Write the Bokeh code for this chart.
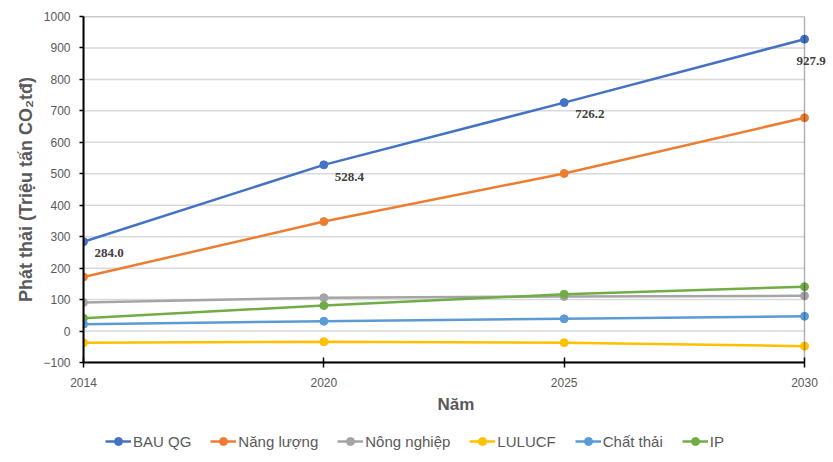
from bokeh.plotting import figure
from bokeh.layouts import column
from bokeh.models import (FixedTicker, Legend, LegendItem, Range1d, ColumnDataSource,
                          LabelSet, BoxAnnotation)
from bokeh.embed import file_html
from bokeh.resources import INLINE

years = ["2014", "2020", "2025", "2030"]
bau_qg = [284.0, 528.4, 726.2, 927.9]
nang_luong = [172, 348, 501, 678]
nong_nghiep = [91, 106, 110, 112]
lulucf = [-37, -34, -37, -48]
chat_thai = [22, 31, 39, 47]
ip = [41, 81, 117, 141]
y_ticks = list(range(-100, 1001, 100))

series_names = ["BAU QG", "Năng lượng", "Nông nghiệp", "LULUCF", "Chất thải", "IP"]
series_values = [bau_qg, nang_luong, nong_nghiep, lulucf, chat_thai, ip]
colors = ["#4472C4", "#ED7D31", "#A5A5A5", "#FFC000", "#5B9BD5", "#70AD47"]
draw_order = [2, 5, 4, 3, 1, 0]

xs = list(range(len(years)))
FONT = "Liberation Sans"
GRAY = "#595959"

W = 833
MAIN_H, LEG_H = 420, 42
FRAME_L, FRAME_R, PLOT_R = 83, 828, 804
x_end = (len(years) - 1) * (FRAME_R - FRAME_L) / (PLOT_R - FRAME_L)

p = figure(width=W, height=MAIN_H, output_backend="svg", toolbar_location=None,
           x_range=Range1d(0, x_end), y_range=Range1d(y_ticks[0], y_ticks[-1]),
           min_border_left=FRAME_L, min_border_right=W - FRAME_R, min_border_top=16,
           min_border_bottom=58)

p.outline_line_color = None
p.background_fill_color = "white"
p.border_fill_color = "white"
p.xgrid.grid_line_color = None
p.ygrid.grid_line_color = None

# horizontal gridlines limited to the category span
p.segment(x0=[0] * len(y_ticks), x1=[xs[-1]] * len(y_ticks), y0=y_ticks, y1=y_ticks,
          line_color="#D9D9D9", line_width=1.5)
# plot box
p.add_layout(BoxAnnotation(left=0, right=xs[-1], bottom=y_ticks[0], top=y_ticks[-1],
                           fill_alpha=0, line_color="black", line_width=1.5))

p.xaxis.ticker = FixedTicker(ticks=xs)
p.xaxis.major_label_overrides = {i: y for i, y in enumerate(years)}
p.xaxis.bounds = (0, xs[-1])
p.yaxis.ticker = FixedTicker(ticks=y_ticks)

for ax in (p.xaxis, p.yaxis):
    ax.axis_line_color = "black"
    ax.axis_line_width = 2
    ax.major_tick_line_color = "black"
    ax.major_tick_line_width = 1.5
    ax.minor_tick_line_color = None
    ax.major_label_text_font = FONT
    ax.major_label_text_font_size = "12px"
    ax.major_label_text_color = GRAY
    ax.axis_label_text_font = FONT
    ax.axis_label_text_font_style = "bold"
    ax.axis_label_text_color = GRAY

p.xaxis.major_tick_in = 5
p.xaxis.major_tick_out = 5
p.xaxis.major_label_standoff = 10
p.xaxis.axis_label = "Năm"
p.xaxis.axis_label_standoff = 5
p.xaxis.axis_label_text_font_size = "17px"

p.yaxis.major_tick_in = 0
p.yaxis.major_tick_out = 4
p.yaxis.major_label_standoff = 9
p.yaxis.axis_label = "Phát thải (Triệu tấn CO₂tđ)"
p.yaxis.axis_label_standoff = 4
p.yaxis.axis_label_text_font_size = "18px"

for i in draw_order:
    src = ColumnDataSource(dict(x=xs, y=series_values[i]))
    p.line("x", "y", source=src, line_color=colors[i], line_width=2.5)
    p.scatter("x", "y", source=src, size=8, fill_color=colors[i], line_color=colors[i])

# data labels for BAU QG
lbl_src = ColumnDataSource(dict(
    x=xs, y=bau_qg, text=[f"{v:.1f}" for v in bau_qg],
    xo=[11, 11, 11, -8], yo=[-11, -12, -11, -22],
))
p.add_layout(LabelSet(x="x", y="y", text="text", source=lbl_src, x_offset="xo", y_offset="yo",
                      text_font=FONT, text_font_style="bold", text_font_size="13px",
                      text_color="#404040", text_baseline="middle", text_align="left"))

# legend strip (frame is aligned with the main plot's frame by the column)
q = figure(width=W, height=LEG_H, output_backend="svg", toolbar_location=None,
           x_range=Range1d(0, 1), y_range=Range1d(0, 1),
           min_border_left=FRAME_L, min_border_right=W - FRAME_R, min_border_top=0,
           min_border_bottom=0, x_axis_type=None, y_axis_type=None)
q.outline_line_color = None
q.xgrid.grid_line_color = None
q.ygrid.grid_line_color = None
q.background_fill_color = "white"
q.border_fill_color = "white"
items = []
for i in range(len(series_names)):
    hidden = ColumnDataSource(dict(x=[-10, -9], y=[-10, -10]))
    r1 = q.line("x", "y", source=hidden, line_color=colors[i], line_width=2.5)
    r2 = q.scatter("x", "y", source=hidden, size=8, fill_color=colors[i], line_color=colors[i])
    items.append(LegendItem(label=series_names[i], renderers=[r1, r2]))
q.add_layout(Legend(items=items, orientation="horizontal", location=(22, 11),
                    label_text_font=FONT, label_text_font_size="15px", label_text_color=GRAY,
                    glyph_width=26, label_standoff=2, spacing=19, padding=0, margin=0,
                    border_line_color=None, background_fill_alpha=0))

layout = column(p, q, spacing=0)
open("out.html", "w").write(file_html(layout, INLINE))
